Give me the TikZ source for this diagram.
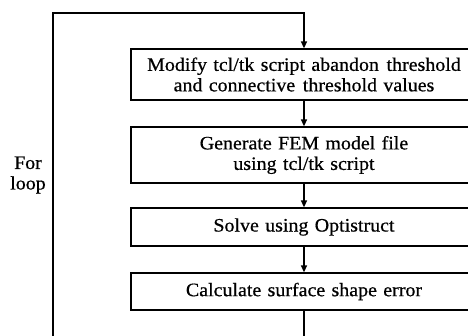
\documentclass[tikz,border=0pt]{standalone}
\usepackage{fontspec}
\setmainfont[FakeStretch=1.05,FakeBold=0.6]{Liberation Serif}
\usetikzlibrary{arrows.meta}
\tikzstyle{boxstyle}=[draw, line width=1.3pt, text width=340pt, align=center,
  minimum width=346pt, inner sep=0pt, font=\fontsize{19}{20.5}\selectfont]
\tikzstyle{line} = [draw, line width=1.3pt, -{Triangle[length=7pt,width=6pt]}]
\newcommand{\flowbox}[3]{node (p#1) [boxstyle, minimum height=#2] {#3}}

\begin{document}
\begin{tikzpicture}[x=1pt, y=-1pt]
\useasboundingbox (0,0) rectangle (468,335);
\clip (0,0) rectangle (468,335);
% Draw diagram elements
\path (304, 74.5) \flowbox{1}{51pt}{Modify tcl/tk script abandon\hspace{0.4em}threshold\\and connective\hspace{0.4em}threshold values};
\path (304, 155)  \flowbox{2}{56pt}{Generate FEM model file\\using tcl/tk script};
\path (304, 227)  \flowbox{3}{38pt}{Solve using Optistruct};
\path (304, 291.5) \flowbox{4}{37pt}{Calculate surface shape error};
\node (loop) at (28, 175) [align=center, font=\fontsize{19}{20.5}\selectfont] {For\\loop};

% Corners of the loop
\coordinate (c1) at (304, 350);
\coordinate (c2) at (53, 350);
\coordinate (c3) at (53, 13);
\coordinate (c4) at (304, 13);

% Draw arrows between elements
\path [line] (p1) -- (p2);
\path [line] (p2) -- (p3);
\path [line] (p3) -- (p4);
\path [line] (p4.south) -- (c1) -- (c2) -- (c3) -- (c4) -- (p1.north);
\end{tikzpicture}
\end{document}
